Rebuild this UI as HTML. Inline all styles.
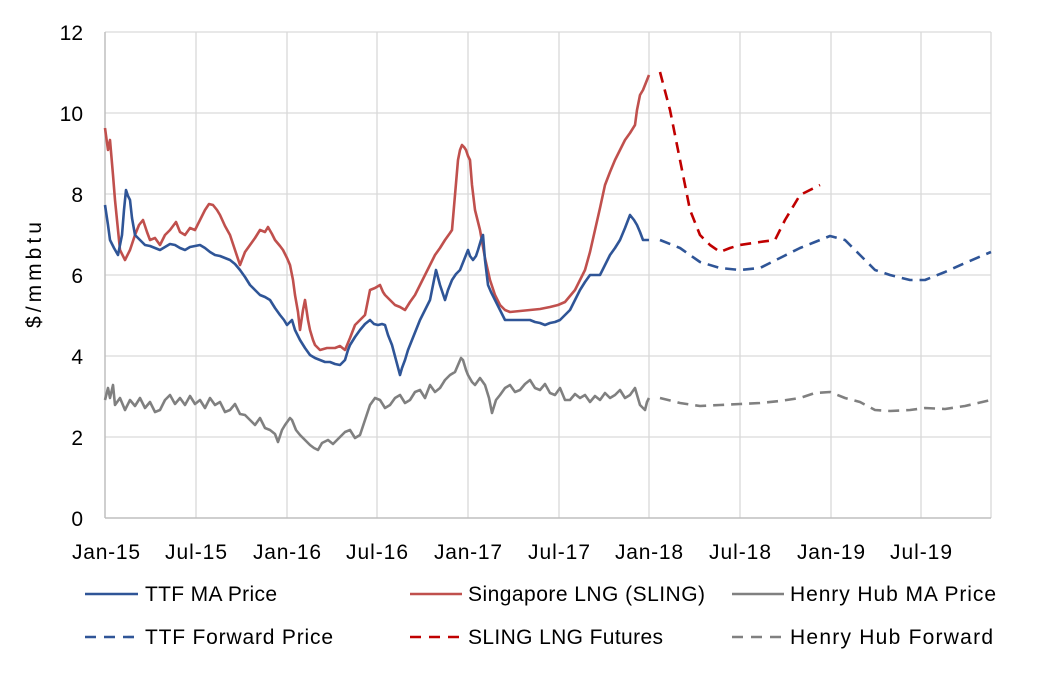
<!DOCTYPE html>
<html><head><meta charset="utf-8"><style>
html,body{margin:0;padding:0;background:#fff}
svg{display:block;font-family:"Liberation Sans",sans-serif}
</style></head><body>
<svg width="1056" height="679" viewBox="0 0 1056 679">
<g stroke="#d9d9d9" stroke-width="1.3">
<line x1="105" y1="32" x2="991" y2="32"/><line x1="105" y1="113" x2="991" y2="113"/>
<line x1="105" y1="194" x2="991" y2="194"/><line x1="105" y1="275" x2="991" y2="275"/>
<line x1="105" y1="356" x2="991" y2="356"/><line x1="105" y1="437" x2="991" y2="437"/>
<line x1="196" y1="32" x2="196" y2="518"/><line x1="287" y1="32" x2="287" y2="518"/>
<line x1="377" y1="32" x2="377" y2="518"/><line x1="468" y1="32" x2="468" y2="518"/>
<line x1="559" y1="32" x2="559" y2="518"/><line x1="649" y1="32" x2="649" y2="518"/>
<line x1="740" y1="32" x2="740" y2="518"/><line x1="831" y1="32" x2="831" y2="518"/>
<line x1="921" y1="32" x2="921" y2="518"/><line x1="991" y1="32" x2="991" y2="518"/>
</g>
<g stroke="#bfbfbf" stroke-width="1.5"><line x1="105" y1="32" x2="105" y2="518"/><line x1="105" y1="518" x2="991" y2="518"/></g>
<g font-size="21" fill="#000" text-anchor="end">
<text x="83" y="40">12</text><text x="83" y="121">10</text><text x="83" y="202">8</text>
<text x="83" y="283">6</text><text x="83" y="364">4</text><text x="83" y="445">2</text><text x="83" y="526">0</text>
</g>
<g font-size="21" fill="#000" text-anchor="middle">
<text x="106" y="559" textLength="68">Jan-15</text><text x="196" y="559" textLength="62">Jul-15</text><text x="287" y="559" textLength="68">Jan-16</text>
<text x="377" y="559" textLength="62">Jul-16</text><text x="468" y="559" textLength="68">Jan-17</text><text x="559" y="559" textLength="62">Jul-17</text>
<text x="649" y="559" textLength="68">Jan-18</text><text x="740" y="559" textLength="62">Jul-18</text><text x="831" y="559" textLength="68">Jan-19</text><text x="921" y="559" textLength="62">Jul-19</text>
</g>
<text transform="translate(41,275) rotate(-90)" font-size="21" text-anchor="middle" textLength="106">$/mmbtu</text>
<g fill="none" stroke-width="2.6" stroke-linejoin="round">
<polyline stroke="#808080" points="105,400 108,388 110,398 113,385 115,405 120,398 125,410 130,400 135,406 140,398 145,408 150,402 155,412 160,410 165,400 170,395 175,404 180,398 185,405 190,396 195,404 200,400 205,408 210,398 215,405 220,402 225,412 230,410 235,404 240,414 245,415 250,420 255,425 260,418 265,428 270,430 275,434 278,442 282,430 285,425 290,418 292,420 296,430 300,435 305,440 310,445 314,448 318,450 322,443 328,440 333,444 340,437 345,432 350,430 355,438 360,435 365,420 370,405 375,398 380,400 385,408 390,405 395,398 400,395 405,403 410,400 415,392 420,390 425,398 430,385 435,392 440,388 445,380 450,375 455,372 458,365 461,358 463,360 466,370 468,375 472,382 475,385 480,378 485,385 489,398 492,413 496,400 500,395 505,388 510,385 515,392 520,390 525,384 530,380 535,388 540,390 545,384 550,393 555,395 560,388 565,400 570,400 575,394 580,398 585,395 590,402 595,396 600,400 605,393 610,398 615,395 620,390 625,398 630,395 635,388 640,405 645,410 647,402 649,398"/>
<polyline stroke="#c0504d" points="105,128 108,150 110,140 113,175 115,200 120,250 125,260 130,250 135,235 139,225 143,220 147,232 150,240 155,238 160,245 165,235 170,230 176,222 180,232 185,235 190,228 195,230 200,220 205,210 209,204 213,205 217,210 220,215 225,226 230,235 235,250 240,265 245,252 250,245 255,238 260,230 265,232 268,227 272,234 275,240 280,246 283,250 287,258 290,265 293,280 295,295 298,312 300,330 303,310 305,300 308,320 310,330 313,340 315,345 320,350 327,348 335,348 340,346 345,350 350,338 355,325 360,320 365,315 368,300 370,290 375,288 380,285 383,292 385,295 390,300 395,305 400,307 405,310 410,302 415,295 420,285 425,275 430,265 435,255 440,248 445,240 450,233 452,230 455,195 458,160 460,150 462,145 464,147 466,150 468,156 470,160 472,185 475,210 478,222 480,230 485,258 490,280 495,295 500,305 505,310 510,312 520,311 530,310 540,309 550,307 558,305 565,302 570,296 575,290 580,280 585,270 590,252 595,230 600,208 605,185 610,172 615,160 620,150 625,140 630,133 635,125 637,110 640,95 643,90 645,85 647,80 649,75"/>
<polyline stroke="#2f5597" points="105,205 108,225 110,240 114,248 118,255 120,245 122,235 124,210 126,190 128,196 130,200 132,218 135,235 140,240 145,245 150,246 155,248 160,250 165,247 170,244 175,245 180,248 185,250 190,247 195,246 200,245 205,248 210,252 215,255 220,256 225,258 230,260 235,264 240,270 245,277 250,285 255,290 260,295 265,297 270,300 275,308 280,315 284,320 287,325 290,322 292,320 295,330 300,340 305,348 310,355 315,358 320,360 325,362 330,362 335,364 340,365 343,362 345,360 348,350 350,345 355,337 360,330 365,324 370,320 374,324 378,325 382,324 385,325 388,335 392,345 396,360 400,375 402,368 405,360 408,350 412,340 416,330 420,320 425,310 430,300 433,285 436,270 440,285 445,300 448,290 452,280 456,274 460,270 464,260 468,250 470,256 473,260 476,256 478,250 481,240 483,235 485,260 488,285 491,292 495,300 500,310 505,320 510,320 515,320 520,320 525,320 530,320 535,322 540,323 545,325 550,323 555,322 560,320 565,315 570,310 575,300 580,290 585,282 590,275 595,275 600,275 605,265 610,255 615,248 620,240 625,228 630,215 634,220 637,225 640,232 643,240 646,240 649,240"/>
<g stroke-dasharray="11,7">
<polyline stroke="#2f5597" points="660,240 680,248 700,262 720,268 740,270 760,268 780,258 800,248 815,242 830,236 845,240 860,255 875,270 890,275 910,280 925,280 945,272 965,263 991,252"/>
<polyline stroke="#c00000" points="660,72 670,110 680,160 690,210 700,235 710,245 720,252 730,248 740,245 760,242 775,240 785,220 800,195 820,185"/>
<polyline stroke="#808080" points="660,398 680,403 700,406 720,405 740,404 760,403 780,401 800,398 815,393 830,392 845,398 860,402 875,410 890,411 910,410 925,408 945,409 965,406 991,400"/>
</g>
<line x1="85" y1="594" x2="138" y2="594" stroke="#2f5597"/>
<line x1="410" y1="594" x2="462" y2="594" stroke="#c0504d"/>
<line x1="732" y1="594" x2="784" y2="594" stroke="#808080"/>
<g stroke-dasharray="11,8">
<line x1="85" y1="637" x2="138" y2="637" stroke="#2f5597"/>
<line x1="410" y1="637" x2="462" y2="637" stroke="#c00000"/>
<line x1="732" y1="637" x2="784" y2="637" stroke="#808080"/>
</g>
</g>
<g font-size="21" fill="#000">
<text x="145" y="601" textLength="132">TTF MA Price</text><text x="468" y="601" textLength="237">Singapore LNG (SLING)</text><text x="790" y="601" textLength="206">Henry Hub MA Price</text>
<text x="145" y="644" textLength="188">TTF Forward Price</text><text x="468" y="644" textLength="195">SLING LNG Futures</text><text x="790" y="644" textLength="203">Henry Hub Forward</text>
</g>
</svg>
</body></html>
